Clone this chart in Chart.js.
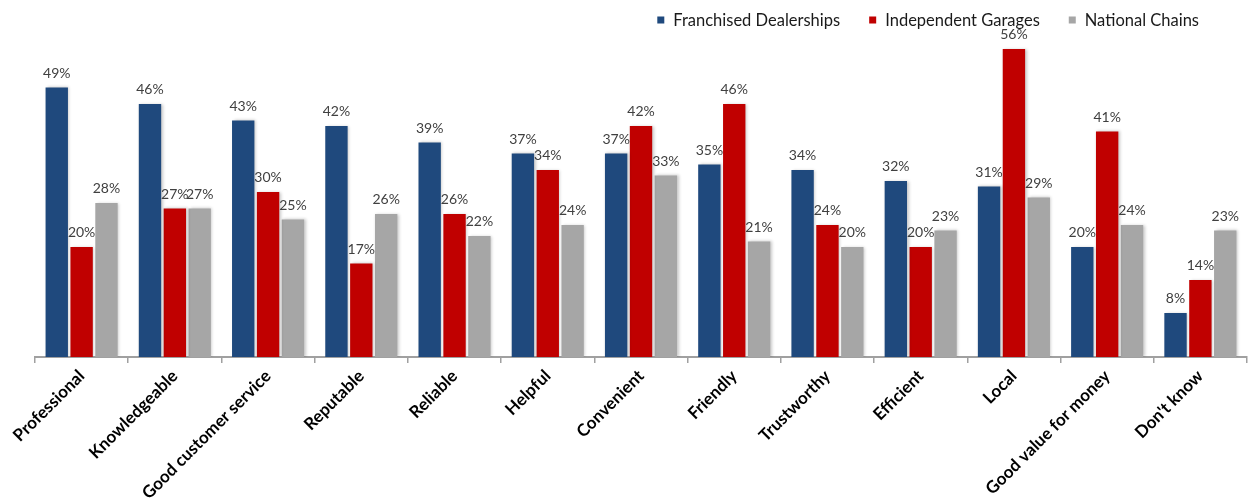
<!DOCTYPE html>
<html>
<head>
<meta charset="utf-8">
<script src="https://cdn.jsdelivr.net/npm/chart.js@4/dist/chart.umd.min.js"></script>
<style>
  html, body { margin: 0; padding: 0; background: #fff; overflow: hidden; }
  #c { display: block; }
</style>
</head>
<body>
<canvas id="c" width="1248" height="504"></canvas>
<script>
// Attributes people associate with each type of garage (% of respondents)
const categories = [
  'Professional', 'Knowledgeable', 'Good customer service', 'Reputable', 'Reliable',
  'Helpful', 'Convenient', 'Friendly', 'Trustworthy', 'Efficient', 'Local',
  'Good value for money', "Don't know"
];
const franchisedDealerships = [49, 46, 43, 42, 39, 37, 37, 35, 34, 32, 31, 20, 8];
const independentGarages    = [20, 27, 30, 17, 26, 34, 42, 46, 24, 20, 56, 41, 14];
const nationalChains        = [28, 27, 25, 26, 22, 24, 33, 21, 20, 23, 29, 24, 23];
const seriesNames = ['Franchised Dealerships', 'Independent Garages', 'National Chains'];
const seriesColors = ['#1F497D', '#C00000', '#A6A6A6'];

const FONT = 'Lato, "Open Sans", "Liberation Sans", sans-serif';

// Soft shadow around each bar
const barShadow = {
  id: 'barShadow',
  beforeDatasetsDraw(chart) {
    const ctx = chart.ctx;
    ctx.save();
    ctx.shadowColor = 'rgba(0,0,0,0.22)';
    ctx.shadowBlur = 3;
    ctx.shadowOffsetX = 1.5;
    ctx.shadowOffsetY = -0.5;
  },
  afterDatasetsDraw(chart) {
    chart.ctx.restore();
  }
};

// Percentage labels above the bars
const valueLabels = {
  id: 'valueLabels',
  afterDatasetsDraw(chart) {
    const ctx = chart.ctx;
    ctx.save();
    ctx.font = '14px ' + FONT;
    ctx.fillStyle = '#404040';
    ctx.textAlign = 'center';
    ctx.textBaseline = 'alphabetic';
    chart.data.datasets.forEach((ds, i) => {
      chart.getDatasetMeta(i).data.forEach((bar, j) => {
        ctx.fillText(ds.data[j] + '%', bar.x, bar.y - 10);
      });
    });
    ctx.restore();
  }
};

// Legend row in the top right corner
const topLegend = {
  id: 'topLegend',
  afterDraw(chart) {
    const ctx = chart.ctx;
    ctx.save();
    ctx.font = '16.5px ' + FONT;
    ctx.textBaseline = 'middle';
    const box = 7, boxGap = 9, itemGap = 29, rightEdge = 1199, cy = 20;
    const ds = chart.data.datasets;
    const widths = ds.map(d => ctx.measureText(d.label).width);
    let total = 0;
    widths.forEach((w, i) => { total += box + boxGap + w + (i < widths.length - 1 ? itemGap : 0); });
    let x = rightEdge - total;
    ds.forEach((d, i) => {
      ctx.fillStyle = d.backgroundColor;
      ctx.fillRect(x, cy - box / 2, box, box);
      x += box + boxGap;
      ctx.fillStyle = '#1a1a1a';
      ctx.fillText(d.label, x, cy + 1);
      x += widths[i] + itemGap;
    });
    ctx.restore();
  }
};

const seriesData = [franchisedDealerships, independentGarages, nationalChains];

new Chart(document.getElementById('c'), {
  type: 'bar',
  data: {
    labels: categories,
    datasets: seriesData.map((d, i) => ({
      label: seriesNames[i],
      data: d,
      backgroundColor: seriesColors[i],
      borderWidth: 0,
      categoryPercentage: 0.8,
      barPercentage: 0.9
    }))
  },
  options: {
    responsive: false,
    animation: false,
    devicePixelRatio: 1,
    layout: { padding: { top: 27, left: 35, right: 1, bottom: 0 } },
    plugins: {
      legend: { display: false },
      tooltip: { enabled: false }
    },
    scales: {
      x: {
        grid: {
          display: true,
          drawOnChartArea: false,
          drawTicks: true,
          tickLength: 6,
          color: '#A0A0A0',
          lineWidth: 1.5
        },
        border: { display: true, color: '#A0A0A0', width: 2 },
        ticks: {
          autoSkip: false,
          maxRotation: 45,
          minRotation: 45,
          padding: 3,
          color: '#000',
          font: { family: FONT, size: 17, weight: 'bold' }
        },
        afterFit(scale) {
          scale.height = 147;
          scale.paddingLeft = 0;
          scale.paddingRight = 0;
        }
      },
      y: {
        display: false,
        min: 0,
        max: 60
      }
    }
  },
  plugins: [barShadow, valueLabels, topLegend]
});
</script>
</body>
</html>
